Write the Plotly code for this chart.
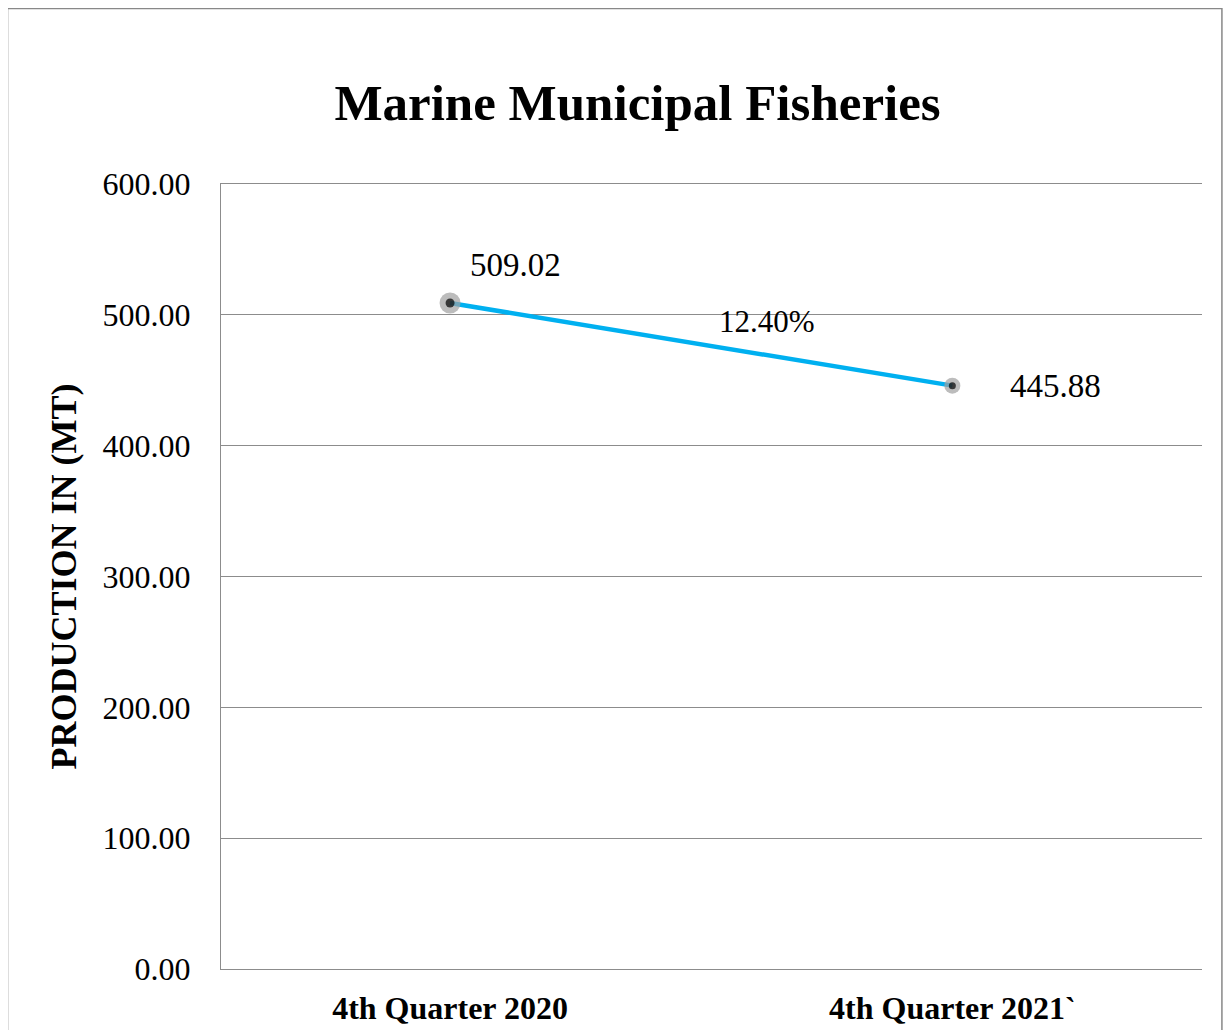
import plotly.graph_objects as go

categories = ["4th Quarter 2020", "4th Quarter 2021`"]
production = [509.02, 445.88]
y_ticks = [0, 100, 200, 300, 400, 500, 600]
y_tick_labels = [f"{v:.2f}" for v in y_ticks]

pct_change = (production[0] - production[1]) / production[0] * 100

FONT = "Liberation Serif"
GRID = "#8C8C8C"

fig = go.Figure()
fig.add_trace(go.Scatter(
    x=categories, y=production, mode="lines",
    line=dict(color="#00B0F0", width=4.5), hoverinfo="skip", showlegend=False,
))
fig.add_trace(go.Scatter(
    x=categories, y=production, mode="markers",
    marker=dict(size=[21, 16], color="#A0A0A0", line=dict(width=0)),
    showlegend=False,
))
fig.add_trace(go.Scatter(
    x=categories, y=production, mode="markers",
    marker=dict(size=[9, 7], color="#000000", line=dict(width=0)),
    showlegend=False,
))

# data labels
fig.add_annotation(x=categories[0], y=production[0], text=f"{production[0]:.2f}",
                   showarrow=False, xshift=65, yshift=38,
                   font=dict(family=FONT, size=33, color="#000"))
fig.add_annotation(x=categories[1], y=production[1], text=f"{production[1]:.2f}",
                   showarrow=False, xshift=103, yshift=0,
                   font=dict(family=FONT, size=33, color="#000"))
fig.add_annotation(xref="paper", yref="paper", x=0.557, y=0.85,
                   text=f"{pct_change:.2f}%", showarrow=False,
                   font=dict(family=FONT, size=31, color="#000"))

# outer chart border
fig.add_shape(type="rect", xref="paper", yref="paper",
              x0=-0.2176, x1=1.0203, y0=-0.09, y1=1.2235,
              line=dict(color="#888888", width=1.5), fillcolor="rgba(0,0,0,0)")

fig.update_layout(
    width=1232, height=1030,
    margin=dict(l=213, r=38, t=176, b=65),
    paper_bgcolor="white", plot_bgcolor="white",
    title=dict(text="<b>Marine Municipal Fisheries</b>", xref="container", yref="container",
               x=0.511, xanchor="center", y=0.909, yanchor="middle",
               font=dict(family=FONT, size=51, color="#000")),
    xaxis=dict(type="category", range=[-0.456, 1.497], showgrid=False, zeroline=False,
               showline=True, mirror=True, linecolor=GRID, linewidth=1.3,
               tickfont=dict(family=FONT, size=32, color="#000"),
               tickprefix="<b>", ticksuffix="</b>", ticks="", ticklabelstandoff=10),
    yaxis=dict(range=[0, 600], tickvals=y_ticks, ticktext=y_tick_labels,
               showgrid=True, gridcolor=GRID, gridwidth=1.3,
               showline=True, linecolor=GRID, linewidth=1.3, zeroline=False,
               tickfont=dict(family=FONT, size=32, color="#000"), ticks="",
               ticklabelstandoff=23,
               title=dict(text="<b>PRODUCTION IN (MT)</b>", standoff=14,
                          font=dict(family=FONT, size=36, color="#000"))),
)

fig.write_html("out.html")
